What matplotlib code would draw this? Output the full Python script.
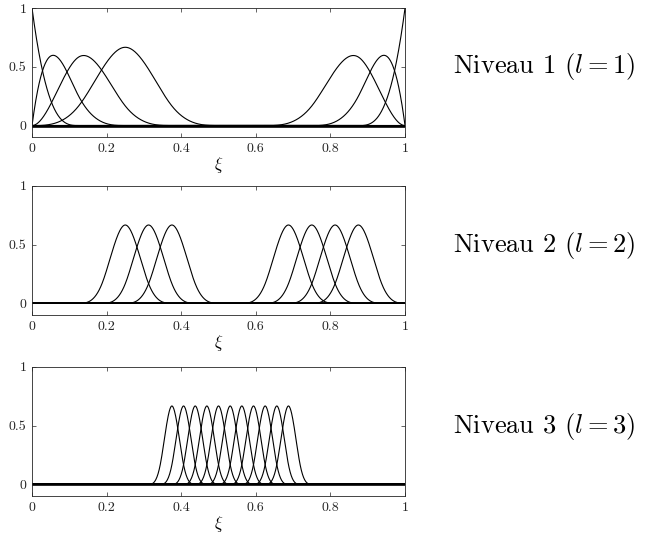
import numpy as np
import matplotlib
matplotlib.use('Agg')
import matplotlib.pyplot as plt

# B-splines cubiques, trois niveaux hierarchiques
degree = 3
n_elem = [8, 16, 32]                      # nombre d'elements par niveau
active_1 = [0, 1, 2, 3, 8, 9, 10]         # fonctions actives niveau 1
active_2 = [5, 6, 7, 12, 13, 14, 15]      # niveau 2
active_3 = [13, 14, 15, 16, 17, 18, 19, 20, 21, 22, 23]  # niveau 3
levels = ['Niveau 1 ($l=1$)', 'Niveau 2 ($l=2$)', 'Niveau 3 ($l=3$)']

xticks = [0, 0.2, 0.4, 0.6, 0.8, 1]
xticklabels = ['0', '0.2', '0.4', '0.6', '0.8', '1']
yticks = [0, 0.5, 1]
yticklabels = ['0', '0.5', '1']

plt.rcParams['font.family'] = 'serif'
plt.rcParams['font.serif'] = ['cmr10']
plt.rcParams['mathtext.fontset'] = 'cm'
plt.rcParams['axes.formatter.use_mathtext'] = True


def basis(knots, p, x):
    # Cox - de Boor
    t = np.asarray(knots)
    m = len(t) - 1
    N = np.zeros((m, len(x)))
    for i in range(m):
        N[i] = ((x >= t[i]) & (x < t[i + 1])).astype(float)
    # dernier point x = 1
    last = np.where(t < t[-1])[0][-1]
    N[last, x >= t[-1]] = 1.0
    for k in range(1, p + 1):
        Nn = np.zeros((m - k, len(x)))
        for i in range(m - k):
            a = t[i + k] - t[i]
            b = t[i + k + 1] - t[i + 1]
            if a > 0:
                Nn[i] += (x - t[i]) / a * N[i]
            if b > 0:
                Nn[i] += (t[i + k + 1] - x) / b * N[i + 1]
        N = Nn
    return N


x = np.linspace(0, 1, 1001)

fig = plt.figure(figsize=(6.47, 5.35), dpi=100)
bottoms = [0.7434, 0.4112, 0.0729]
label_y = [0.8748, 0.542, 0.202]
zero_lw = [1.9, 1.3, 1.9]

for lev, act in enumerate([active_1, active_2, active_3]):
    ne = n_elem[lev]
    knots = np.r_[[0] * degree, np.linspace(0, 1, ne + 1), [1] * degree]
    N = basis(knots, degree, x)
    ax = fig.add_axes([0.0495, bottoms[lev], 0.5765, 0.2414])
    for i in act:
        ax.plot(x, N[i], color='k', lw=0.8)
    ax.plot(x, np.zeros_like(x), color='k', lw=zero_lw[lev])
    ax.set_xlim(0, 1)
    ax.set_ylim(-0.1, 1)
    ax.set_xticks(xticks)
    ax.set_xticklabels(xticklabels)
    ax.set_yticks(yticks)
    ax.set_yticklabels(yticklabels)
    ax.tick_params(direction='in', length=3, width=0.5, top=True, right=True,
                   labelsize=10, colors='#262626', pad=4)
    for s in ax.spines.values():
        s.set_linewidth(0.6)
        s.set_color('#262626')
    ax.set_xlabel(r'$\xi$', fontsize=12, labelpad=0)
    fig.text(0.700, label_y[lev], levels[lev], fontsize=19, va='center', ha='left')

fig.savefig('out.png', dpi=100)
